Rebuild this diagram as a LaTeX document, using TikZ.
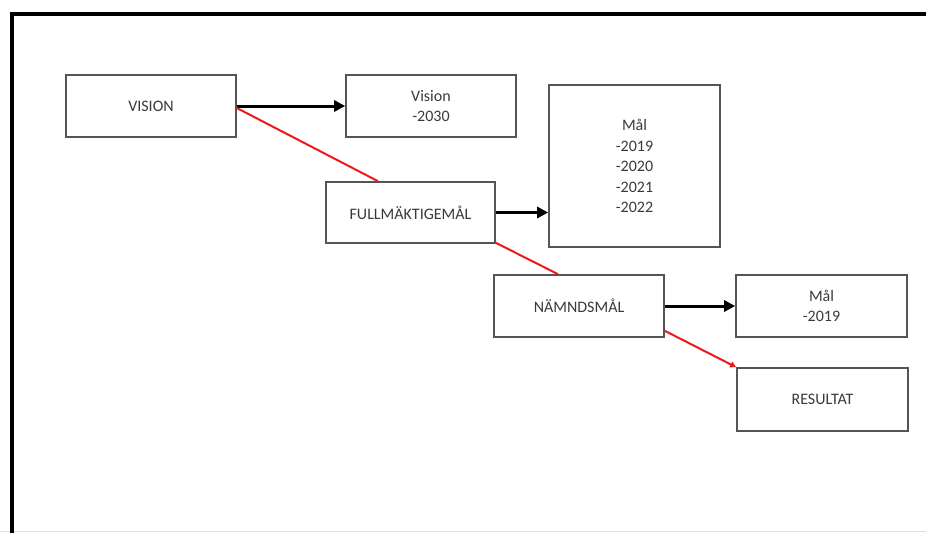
\documentclass[tikz,border=0pt]{standalone}
\usepackage{fontspec}
\setmainfont{Carlito}
\usetikzlibrary{arrows.meta,calc}
\definecolor{boxline}{HTML}{555555}
\definecolor{txt}{HTML}{3A3A3A}
\definecolor{redline}{HTML}{F01818}
\begin{document}
\begin{tikzpicture}[x=1pt,y=-1pt,
  box/.style={draw=boxline,line width=1.6pt,rectangle,inner sep=0pt,
    align=center,text=txt,font=\fontsize{16}{20.5}\selectfont},
  blackarrow/.style={line width=3pt,black,-{Triangle[length=11pt,width=11pt]}},
  redlink/.style={line width=2pt,redline},
  redarrow/.style={line width=2pt,redline,-{Triangle[length=6pt,width=6pt]}}]
\useasboundingbox (0,0) rectangle (926,533);
\fill[white] (0,0) rectangle (926,533);
% frame
\draw[black!12,line width=1pt] (0,531.5) -- (926,531.5);
\draw[line width=4pt,line join=miter] (11.5,533) -- (11.5,13.5) -- (926,13.5);
% nodes
\node[box,minimum width=170pt,minimum height=62pt] (vision) at (151,106) {VISION};
\node[box,minimum width=170pt,minimum height=62pt] (vis2030) at (431,106) {Vision\\-2030};
\node[box,minimum width=169pt,minimum height=61pt] (fullm) at (410.5,212.5) {FULLMÄKTIGEMÅL};
\node[box,minimum width=171pt,minimum height=162pt] (mal4) at (634.5,166) {Mål\\-2019\\-2020\\-2021\\-2022};
\node[box,minimum width=170pt,minimum height=62pt] (naemnd) at (579,306) {NÄMNDSMÅL};
\node[box,minimum width=171pt,minimum height=62pt] (mal2019) at (821.5,306) {Mål\\-2019};
\node[box,minimum width=171pt,minimum height=63pt] (resultat) at (822.5,399.5) {RESULTAT};
% black connectors
\draw[blackarrow] (vision.east) -- (vis2030.west);
\draw[blackarrow] (fullm.east) -- (fullm.east -| mal4.west);
\draw[blackarrow] (naemnd.east) -- (mal2019.west);
% red connectors
\draw[redlink] ([yshift=-2pt]vision.east) -- ([xshift=-32.5pt]fullm.north);
\draw[redlink] ([yshift=1pt]fullm.south east) -- ([xshift=-21pt]naemnd.north);
\draw[redarrow] ([yshift=7pt]naemnd.south east) -- (resultat.north west);
\end{tikzpicture}
\end{document}
